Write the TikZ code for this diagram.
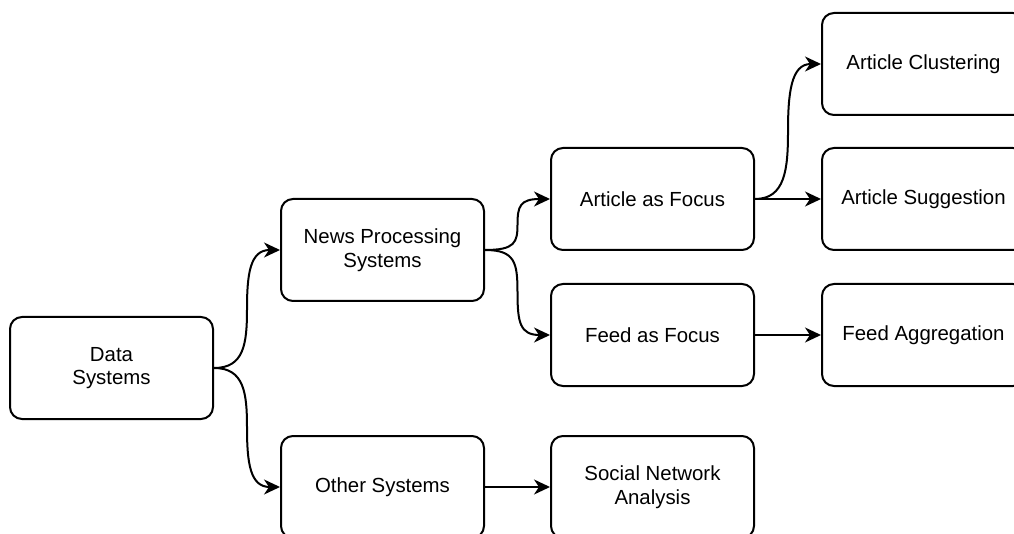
\documentclass[tikz,border=0pt]{standalone}
\usepackage{fontspec}
\setmainfont{Liberation Sans}
\usetikzlibrary{arrows.meta,calc}

\tikzset{
  sysbox/.style={draw=black, line width=2pt, rounded corners=12pt,
    minimum width=203pt, minimum height=102pt, align=center,
    font=\fontsize{20.4}{23.5}\selectfont},
  link/.style={line width=2pt, -{Stealth[length=16pt,width=15pt,inset=5pt]}}
}

\begin{document}
\begin{tikzpicture}[x=1pt,y=-1pt]
\useasboundingbox (0,0) rectangle (1014,534);
\clip (0,0) rectangle (1014,534);
\node[sysbox](ds) at (111.5,368){Data\\Systems};
\node[sysbox](nps) at (382.5,250){News Processing\\Systems};
\node[sysbox](os) at (382.5,487){Other Systems};
\node[sysbox](af) at (652.5,199){Article as Focus};
\node[sysbox](ff) at (652.5,335){Feed as Focus};
\node[sysbox](sna) at (652.5,487){Social Network\\Analysis};
\node[sysbox](ac) at (923.5,64){Article Clustering};
\node[sysbox](as) at (923.5,199){Article Suggestion};
\node[sysbox](fa) at (923.5,335){Feed Aggregation};

% curved links
\draw[link](ds.east) .. controls +(30,0) and +(0,35) .. ($(ds.east)!0.5!(nps.west)$)
  .. controls +(0,-35) and +(-30,0) .. (nps.west);
\draw[link](ds.east) .. controls +(30,0) and +(0,-35) .. ($(ds.east)!0.5!(os.west)$)
  .. controls +(0,35) and +(-30,0) .. (os.west);
\draw[link](nps.east) .. controls +(30,0) and +(0,18) .. ($(nps.east)!0.5!(af.west)$)
  .. controls +(0,-18) and +(-30,0) .. (af.west);
\draw[link](nps.east) .. controls +(30,0) and +(0,-30) .. ($(nps.east)!0.5!(ff.west)$)
  .. controls +(0,30) and +(-30,0) .. (ff.west);
\draw[link](af.east) .. controls +(30,0) and +(0,38) .. ($(af.east)!0.5!(ac.west)$)
  .. controls +(0,-38) and +(-30,0) .. (ac.west);

\draw[link](af)--(as);
\draw[link](ff)--(fa);
\draw[link](os)--(sna);
\end{tikzpicture}
\end{document}
